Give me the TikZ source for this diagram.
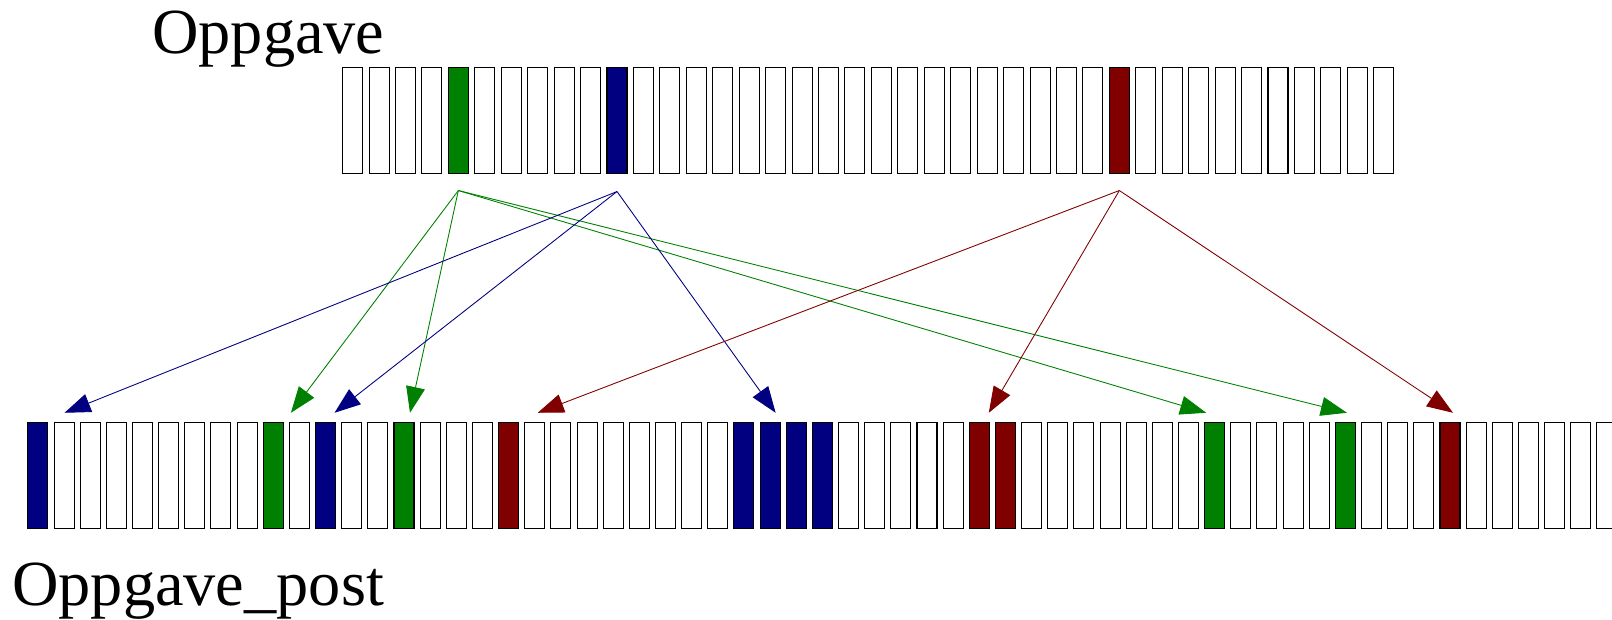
\documentclass[tikz,border=0pt]{standalone}
\usepackage{fontspec}
\setmainfont{Liberation Serif}
\usetikzlibrary{arrows.meta}
\definecolor{navyblue}{RGB}{0,0,128}
\definecolor{darkgreen}{RGB}{0,128,0}
\definecolor{darkred}{RGB}{128,0,0}
\tikzset{
cell/.style={rectangle,draw=black,line width=0.6pt,fill=white,inner sep=0pt,minimum width=0.40cm,minimum height=2.12cm},
gcell/.style={cell,fill=darkgreen},
bcell/.style={cell,fill=navyblue},
rcell/.style={cell,fill=darkred},
arr/.style={line width=0.5pt,-{Triangle[length=0.52cm,width=0.38cm]}},
garr/.style={arr,darkgreen},
barr/.style={arr,navyblue},
rarr/.style={arr,darkred},
lbl/.style={anchor=base west,inner sep=0pt,font=\fontsize{36.6}{40}\selectfont}
}
\begin{document}
\begin{tikzpicture}
\useasboundingbox (0,0) rectangle (32.24,12.38);
\node at (3.04,11.3) [lbl] (ltop) {Oppgave};
\node at (0.24,0.27) [lbl] (lbot) {Oppgave\_post};
%
\node at (7.052,9.97) [cell] (t0) {};
\node at (7.581,9.97) [cell] (t1) {};
\node at (8.110,9.97) [cell] (t2) {};
\node at (8.638,9.97) [cell] (t3) {};
\node at (9.167,9.97) [gcell] (t4) {};
\node at (9.696,9.97) [cell] (t5) {};
\node at (10.225,9.97) [cell] (t6) {};
\node at (10.754,9.97) [cell] (t7) {};
\node at (11.282,9.97) [cell] (t8) {};
\node at (11.811,9.97) [cell] (t9) {};
\node at (12.340,9.97) [bcell] (t10) {};
\node at (12.869,9.97) [cell] (t11) {};
\node at (13.398,9.97) [cell] (t12) {};
\node at (13.926,9.97) [cell] (t13) {};
\node at (14.455,9.97) [cell] (t14) {};
\node at (14.984,9.97) [cell] (t15) {};
\node at (15.513,9.97) [cell] (t16) {};
\node at (16.042,9.97) [cell] (t17) {};
\node at (16.570,9.97) [cell] (t18) {};
\node at (17.099,9.97) [cell] (t19) {};
\node at (17.628,9.97) [cell] (t20) {};
\node at (18.157,9.97) [cell] (t21) {};
\node at (18.686,9.97) [cell] (t22) {};
\node at (19.214,9.97) [cell] (t23) {};
\node at (19.743,9.97) [cell] (t24) {};
\node at (20.272,9.97) [cell] (t25) {};
\node at (20.801,9.97) [cell] (t26) {};
\node at (21.330,9.97) [cell] (t27) {};
\node at (21.858,9.97) [cell] (t28) {};
\node at (22.387,9.97) [rcell] (t29) {};
\node at (22.916,9.97) [cell] (t30) {};
\node at (23.445,9.97) [cell] (t31) {};
\node at (23.974,9.97) [cell] (t32) {};
\node at (24.502,9.97) [cell] (t33) {};
\node at (25.031,9.97) [cell] (t34) {};
\node at (25.560,9.97) [cell] (t35) {};
\node at (26.089,9.97) [cell] (t36) {};
\node at (26.618,9.97) [cell] (t37) {};
\node at (27.146,9.97) [cell] (t38) {};
\node at (27.675,9.97) [cell] (t39) {};
%
\node at (0.758,2.864) [bcell] (b0) {};
\node at (1.281,2.864) [cell] (b1) {};
\node at (1.804,2.864) [cell] (b2) {};
\node at (2.327,2.864) [cell] (b3) {};
\node at (2.850,2.864) [cell] (b4) {};
\node at (3.373,2.864) [cell] (b5) {};
\node at (3.896,2.864) [cell] (b6) {};
\node at (4.419,2.864) [cell] (b7) {};
\node at (4.942,2.864) [cell] (b8) {};
\node at (5.465,2.864) [gcell] (b9) {};
\node at (5.988,2.864) [cell] (b10) {};
\node at (6.511,2.864) [bcell] (b11) {};
\node at (7.034,2.864) [cell] (b12) {};
\node at (7.557,2.864) [cell] (b13) {};
\node at (8.080,2.864) [gcell] (b14) {};
\node at (8.603,2.864) [cell] (b15) {};
\node at (9.126,2.864) [cell] (b16) {};
\node at (9.649,2.864) [cell] (b17) {};
\node at (10.172,2.864) [rcell] (b18) {};
\node at (10.695,2.864) [cell] (b19) {};
\node at (11.218,2.864) [cell] (b20) {};
\node at (11.741,2.864) [cell] (b21) {};
\node at (12.264,2.864) [cell] (b22) {};
\node at (12.787,2.864) [cell] (b23) {};
\node at (13.310,2.864) [cell] (b24) {};
\node at (13.833,2.864) [cell] (b25) {};
\node at (14.356,2.864) [cell] (b26) {};
\node at (14.879,2.864) [bcell] (b27) {};
\node at (15.402,2.864) [bcell] (b28) {};
\node at (15.925,2.864) [bcell] (b29) {};
\node at (16.448,2.864) [bcell] (b30) {};
\node at (16.971,2.864) [cell] (b31) {};
\node at (17.494,2.864) [cell] (b32) {};
\node at (18.017,2.864) [cell] (b33) {};
\node at (18.540,2.864) [cell] (b34) {};
\node at (19.063,2.864) [cell] (b35) {};
\node at (19.586,2.864) [rcell] (b36) {};
\node at (20.109,2.864) [rcell] (b37) {};
\node at (20.632,2.864) [cell] (b38) {};
\node at (21.155,2.864) [cell] (b39) {};
\node at (21.678,2.864) [cell] (b40) {};
\node at (22.201,2.864) [cell] (b41) {};
\node at (22.724,2.864) [cell] (b42) {};
\node at (23.247,2.864) [cell] (b43) {};
\node at (23.770,2.864) [cell] (b44) {};
\node at (24.293,2.864) [gcell] (b45) {};
\node at (24.816,2.864) [cell] (b46) {};
\node at (25.339,2.864) [cell] (b47) {};
\node at (25.862,2.864) [cell] (b48) {};
\node at (26.385,2.864) [cell] (b49) {};
\node at (26.908,2.864) [gcell] (b50) {};
\node at (27.431,2.864) [cell] (b51) {};
\node at (27.954,2.864) [cell] (b52) {};
\node at (28.477,2.864) [cell] (b53) {};
\node at (29.000,2.864) [rcell] (b54) {};
\node at (29.523,2.864) [cell] (b55) {};
\node at (30.046,2.864) [cell] (b56) {};
\node at (30.569,2.864) [cell] (b57) {};
\node at (31.092,2.864) [cell] (b58) {};
\node at (31.615,2.864) [cell] (b59) {};
\node at (32.138,2.864) [cell] (b60) {};
%
\coordinate (sg) at ([yshift=-0.33cm]t4.south);
\coordinate (sb) at ([yshift=-0.35cm]t10.south);
\coordinate (sr) at ([yshift=-0.33cm]t29.south);
%
\coordinate (p1) at ([xshift=0.01cm,yshift=0.19cm]b1.north);
\coordinate (p10) at ([xshift=-0.17cm,yshift=0.19cm]b10.north);
\coordinate (p11) at ([xshift=0.18cm,yshift=0.19cm]b11.north);
\coordinate (p14) at ([xshift=0.12cm,yshift=0.19cm]b14.north);
\coordinate (p19) at ([xshift=0.06cm,yshift=0.19cm]b19.north);
\coordinate (p28) at ([xshift=0.11cm,yshift=0.19cm]b28.north);
\coordinate (p36) at ([xshift=0.19cm,yshift=0.19cm]b36.north);
\coordinate (p45) at ([xshift=-0.17cm,yshift=0.19cm]b45.north);
\coordinate (p50) at ([xshift=0.03cm,yshift=0.19cm]b50.north);
\coordinate (p54) at ([xshift=0.06cm,yshift=0.19cm]b54.north);
%
\draw[garr] (sg) -- (p10);
\draw[garr] (sg) -- (p14);
\draw[garr] (sg) -- (p45);
\draw[garr] (sg) -- (p50);
%
\draw[barr] (sb) -- (p1);
\draw[barr] (sb) -- (p11);
\draw[barr] (sb) -- (p28);
%
\draw[rarr] (sr) -- (p19);
\draw[rarr] (sr) -- (p36);
\draw[rarr] (sr) -- (p54);
\end{tikzpicture}
\end{document}
